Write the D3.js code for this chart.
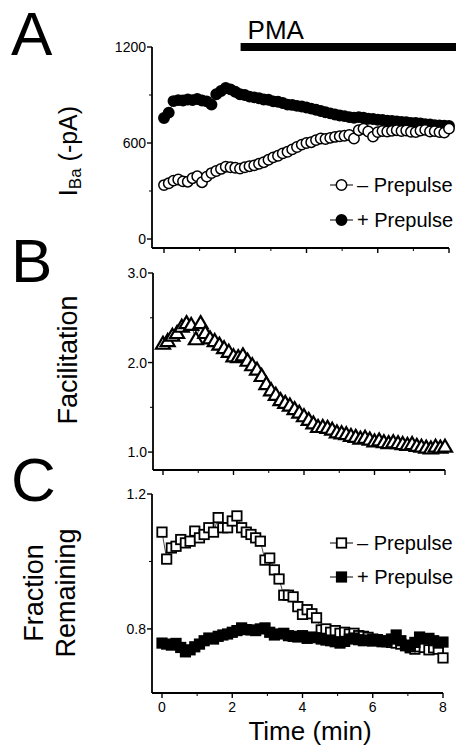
<!DOCTYPE html>
<html><head><meta charset="utf-8">
<script src="https://cdn.jsdelivr.net/npm/d3@7"></script>
<style>body{margin:0;background:#fff}svg{display:block}text{font-family:Arial,"Liberation Sans",Helvetica,sans-serif;fill:#000}</style>
</head><body><svg id="c" width="456" height="751"></svg>
<script>
const time = [0,0.133,0.267,0.4,0.533,0.667,0.8,0.933,1.067,1.2,1.333,1.467,1.6,1.733,1.867,2,2.133,2.267,2.4,2.533,2.667,2.8,2.933,3.067,3.2,3.333,3.467,3.6,3.733,3.867,4,4.133,4.267,4.4,4.533,4.667,4.8,4.933,5.067,5.2,5.333,5.467,5.6,5.733,5.867,6,6.133,6.267,6.4,6.533,6.667,6.8,6.933,7.067,7.2,7.333,7.467,7.6,7.733,7.867,8];
const ibaMinus = [337,348,365,372,360,358,380,392,355,390,412,425,438,452,448,445,440,448,455,460,470,480,495,510,520,535,545,560,575,590,600,605,618,628,625,632,638,642,645,650,628,680,690,672,640,668,675,672,676,680,675,678,670,668,678,682,672,674,668,665,690];
const ibaPlus = [756,790,862,868,866,872,868,875,866,860,840,905,925,944,935,920,905,900,890,885,880,872,870,860,858,850,840,838,832,828,822,815,808,800,792,785,778,772,768,762,758,762,758,752,750,745,744,740,738,735,732,730,726,725,722,718,716,712,710,708,706];
const facilitation = [2.21,2.24,2.30,2.33,2.40,2.44,2.42,2.26,2.44,2.33,2.27,2.24,2.20,2.16,2.12,2.07,2.06,2.08,2.02,1.97,1.92,1.85,1.76,1.69,1.64,1.58,1.55,1.52,1.48,1.44,1.40,1.36,1.32,1.28,1.28,1.27,1.25,1.22,1.21,1.20,1.18,1.17,1.15,1.16,1.14,1.12,1.13,1.11,1.10,1.11,1.10,1.09,1.08,1.09,1.07,1.06,1.05,1.04,1.06,1.05,1.06];
const fracMinus = [1.087,1.007,1.04,1.045,1.065,1.055,1.06,1.09,1.07,1.08,1.10,1.087,1.13,1.10,1.10,1.12,1.135,1.10,1.087,1.08,1.07,1.06,1.004,1.01,0.975,0.948,0.90,0.90,0.895,0.866,0.843,0.857,0.845,0.833,0.797,0.80,0.79,0.795,0.787,0.79,0.785,0.787,0.78,0.778,0.775,0.77,0.768,0.765,0.762,0.76,0.758,0.755,0.752,0.744,0.74,0.747,0.745,0.738,0.744,0.74,0.714];
const fracPlus = [0.758,0.755,0.752,0.757,0.745,0.732,0.738,0.747,0.755,0.765,0.773,0.770,0.778,0.782,0.785,0.79,0.795,0.803,0.798,0.797,0.795,0.80,0.803,0.79,0.782,0.785,0.787,0.78,0.778,0.776,0.78,0.772,0.776,0.774,0.770,0.767,0.765,0.762,0.758,0.763,0.770,0.773,0.768,0.765,0.767,0.764,0.768,0.762,0.764,0.770,0.782,0.765,0.750,0.747,0.760,0.776,0.770,0.772,0.765,0.758,0.761];
const xTicks = [0,2,4,6,8];
const xMinor = [1,3,5,7];
const ticksA = [0,600,1200], minorA = [300,900];
const ticksB = [1.0,2.0,3.0], minorB = [1.5,2.5];
const ticksC = [0.8,1.2], minorC = [1.0];
const pma = [2.15, 8.2];
const legendLabels = ["\u2013 Prepulse", "+ Prepulse"];

const svg = d3.select("#c");

function panel(cfg){
  const g = svg.append("g");
  const x = d3.scaleLinear().domain([0,8]).range(cfg.xr);
  const y = d3.scaleLinear().domain(cfg.yd).range(cfg.yr);
  const axX = cfg.axisX;
  g.append("line").attr("x1",axX).attr("x2",axX).attr("y1",cfg.yr[1]).attr("y2",cfg.yr[0]).attr("stroke","#000").attr("stroke-width",1.8);
  g.append("line").attr("x1",axX).attr("x2",cfg.xr[1]).attr("y1",cfg.yr[0]).attr("y2",cfg.yr[0]).attr("stroke","#000").attr("stroke-width",1.8);
  cfg.yt.forEach(v=>{
    g.append("line").attr("x1",axX-5).attr("x2",axX).attr("y1",y(v)).attr("y2",y(v)).attr("stroke","#000").attr("stroke-width",1.4);
    g.append("text").attr("x",axX-6).attr("y",y(v)).attr("dy","0.36em").attr("text-anchor","end").attr("font-size",14).text(cfg.fmt(v));
  });
  cfg.ym.forEach(v=>{
    g.append("line").attr("x1",axX-3).attr("x2",axX).attr("y1",y(v)).attr("y2",y(v)).attr("stroke","#000").attr("stroke-width",1);
  });
  xTicks.forEach(v=>{
    g.append("line").attr("x1",x(v)).attr("x2",x(v)).attr("y1",cfg.yr[0]).attr("y2",cfg.yr[0]+5).attr("stroke","#000").attr("stroke-width",1.4);
    if(cfg.xlabels) g.append("text").attr("x",x(v)).attr("y",cfg.yr[0]+19).attr("text-anchor","middle").attr("font-size",14).text(v);
  });
  xMinor.forEach(v=>{
    g.append("line").attr("x1",x(v)).attr("x2",x(v)).attr("y1",cfg.yr[0]).attr("y2",cfg.yr[0]+3).attr("stroke","#000").attr("stroke-width",1);
  });
  return {g,x,y};
}

const circleMark = (g,cx,cy,filled)=>g.append("circle").attr("cx",cx).attr("cy",cy).attr("r",5.2).attr("fill",filled?"#000":"#fff").attr("stroke","#000").attr("stroke-width",1.5);
const squareMark = (g,cx,cy,filled)=>g.append("rect").attr("x",cx-4.7).attr("y",cy-4.7).attr("width",9.4).attr("height",9.4).attr("fill",filled?"#000":"#fff").attr("stroke","#000").attr("stroke-width",1.8);
const triMark = (g,cx,cy)=>g.append("path").attr("d",`M${cx},${cy-7}L${cx+7},${cy+5}L${cx-7},${cy+5}Z`).attr("fill","#fff").attr("stroke","#000").attr("stroke-width",2.2).attr("stroke-linejoin","miter");

function series(p, vals, mark, filled){
  const line = d3.line().x((d,i)=>p.x(time[i])).y(d=>p.y(d));
  p.g.append("path").attr("d",line(vals)).attr("fill","none").attr("stroke","#000").attr("stroke-width",0.7);
  vals.forEach((v,i)=>mark(p.g,p.x(time[i]),p.y(v),filled));
}
function legend(g, yy, mark, filled, label){
  g.append("line").attr("x1",330).attr("x2",353).attr("y1",yy).attr("y2",yy).attr("stroke","#000").attr("stroke-width",1);
  mark(g,341.5,yy,filled);
  g.append("text").attr("x",357).attr("y",yy).attr("dy","0.36em").attr("font-size",20).text(label);
}

const A = panel({xr:[164,449], yd:[-56.25,1200], yr:[248,47], axisX:152, yt:ticksA, ym:minorA, fmt:d=>d});
series(A, ibaPlus, circleMark, true);
series(A, ibaMinus, circleMark, false);
legend(A.g, 185, circleMark, false, legendLabels[0]);
legend(A.g, 220, circleMark, true, legendLabels[1]);
A.g.append("rect").attr("x",A.x(pma[0])).attr("y",43).attr("width",A.x(pma[1])-A.x(pma[0])).attr("height",8).attr("fill","#000");
A.g.append("text").attr("x",A.x(pma[0])+7).attr("y",39).attr("font-size",26).text("PMA");

const B = panel({xr:[163,445], yd:[0.8,3.0], yr:[470,273], axisX:153, yt:ticksB, ym:minorB, fmt:d3.format(".1f")});
series(B, facilitation, (g,cx,cy)=>triMark(g,cx,cy), false);

const C = panel({xr:[162,443], yd:[0.61,1.2], yr:[693,494], axisX:152, yt:ticksC, ym:minorC, fmt:d3.format(".1f"), xlabels:true});
series(C, fracMinus, squareMark, false);
series(C, fracPlus, squareMark, true);
legend(C.g, 543, squareMark, false, legendLabels[0]);
legend(C.g, 577, squareMark, true, legendLabels[1]);

[["A",55],["B",282],["C",501]].forEach(([t,yy])=>svg.append("text").attr("x",11).attr("y",yy).attr("font-size",62).text(t));

const yl = svg.append("text").attr("transform","translate(77,151) rotate(-90)").attr("text-anchor","middle").attr("font-size",25);
yl.append("tspan").text("I");
yl.append("tspan").attr("font-size",17).attr("dy",4).text("Ba");
yl.append("tspan").attr("dy",-4).text(" (-pA)");
svg.append("text").attr("transform","translate(77,360) rotate(-90)").attr("text-anchor","middle").attr("font-size",27).text("Facilitation");
svg.append("text").attr("transform","translate(43,593) rotate(-90)").attr("text-anchor","middle").attr("font-size",27).text("Fraction");
svg.append("text").attr("transform","translate(75,593) rotate(-90)").attr("text-anchor","middle").attr("font-size",27).text("Remaining");
svg.append("text").attr("x",310).attr("y",740).attr("text-anchor","middle").attr("font-size",26).text("Time (min)");
</script></body></html>
